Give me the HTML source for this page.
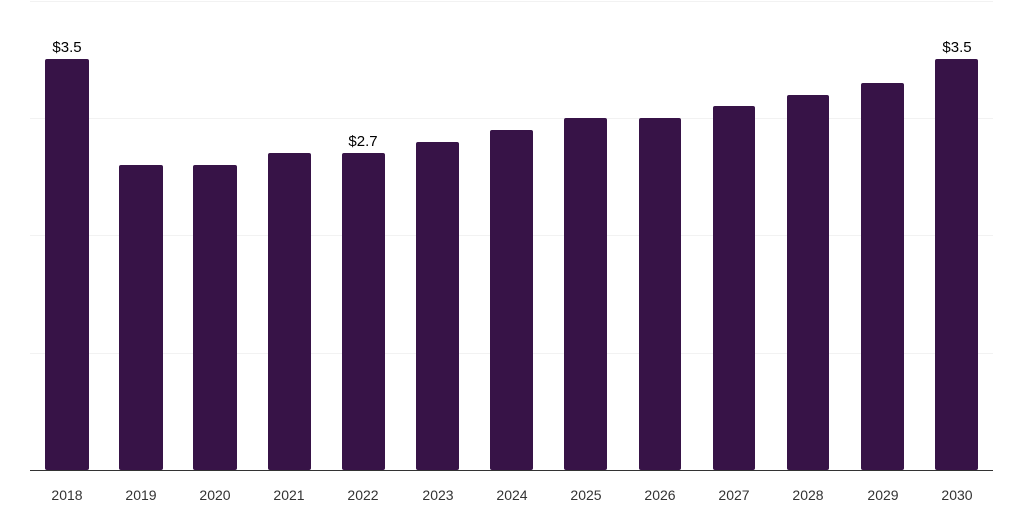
<!DOCTYPE html>
<html><head><style>body{margin:0;background:#fff}</style></head><body>
<svg width="1024" height="512" xmlns="http://www.w3.org/2000/svg" font-family="Liberation Sans, sans-serif">
<g stroke="#f2f2f2" stroke-width="1">
<line x1="30" x2="993" y1="1.5" y2="1.5"/><line x1="30" x2="993" y1="118.5" y2="118.5"/>
<line x1="30" x2="993" y1="235.5" y2="235.5"/><line x1="30" x2="993" y1="353.5" y2="353.5"/>
</g>
<g fill="#371347">
<rect x="45" y="59" width="44" height="411" rx="2"/>
<rect x="119" y="165" width="44" height="305" rx="2"/>
<rect x="193" y="165" width="44" height="305" rx="2"/>
<rect x="268" y="153" width="43" height="317" rx="2"/>
<rect x="342" y="153" width="43" height="317" rx="2"/>
<rect x="416" y="142" width="43" height="328" rx="2"/>
<rect x="490" y="130" width="43" height="340" rx="2"/>
<rect x="564" y="118" width="43" height="352" rx="2"/>
<rect x="639" y="118" width="42" height="352" rx="2"/>
<rect x="713" y="106" width="42" height="364" rx="2"/>
<rect x="787" y="95" width="42" height="375" rx="2"/>
<rect x="861" y="83" width="43" height="387" rx="2"/>
<rect x="935" y="59" width="43" height="411" rx="2"/>
</g>
<line x1="30" x2="993" y1="470.5" y2="470.5" stroke="#333" stroke-width="1"/>
<g font-size="15" fill="#000" text-anchor="middle">
<text x="67" y="52">$3.5</text><text x="363" y="146">$2.7</text><text x="957" y="52">$3.5</text>
</g>
<g font-size="14" fill="#333" text-anchor="middle">
<text x="67" y="500">2018</text><text x="141" y="500">2019</text><text x="215" y="500">2020</text>
<text x="289" y="500">2021</text><text x="363" y="500">2022</text><text x="438" y="500">2023</text>
<text x="512" y="500">2024</text><text x="586" y="500">2025</text><text x="660" y="500">2026</text>
<text x="734" y="500">2027</text><text x="808" y="500">2028</text><text x="883" y="500">2029</text>
<text x="957" y="500">2030</text>
</g>
</svg>
</body></html>
